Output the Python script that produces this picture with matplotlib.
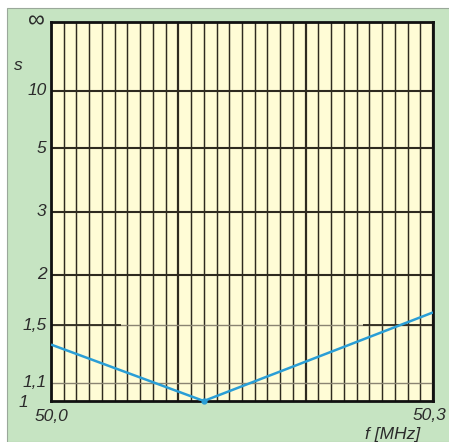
import numpy as np
import matplotlib.pyplot as plt
from matplotlib.patches import Rectangle

# SWR scale marks and the measured curve
swr_ticks = [1, 1.1, 1.5, 2, 3, 5, 10, np.inf]
swr_labels = ['1', '1,1', '1,5', '2', '3', '5', '10', '\u221e']
freq = [50.0, 50.12, 50.3]      # MHz
swr = [1.35, 1.0, 1.61]
f_min, f_max = 50.0, 50.3
f_step = 0.01
seg_15 = [(50.0, 50.055), (50.245, 50.3)]   # darker parts of the 1,5 line


def refl(s):
    # reflection coefficient, the chart's y scale
    s = np.asarray(s, dtype=float)
    return np.where(np.isinf(s), 1.0, (s - 1) / (s + 1))


plt.rcParams['font.family'] = ['Liberation Sans', 'DejaVu Sans']
green = '#c6e4c2'
yellow = '#fffcd6'
dark = '#2e2a20'
txt = '#2b2b2b'
fs = 12.5

fig = plt.figure(figsize=(4.49, 4.42), dpi=100)
fig.patch.set_facecolor('white')
fig.patches.append(Rectangle((7 / 449, 0), 1, 1 - 8 / 442, transform=fig.transFigure,
                             facecolor=green, edgecolor='#9aa89a', lw=0.8, zorder=-10))

ax = fig.add_axes([51 / 449, 1 - 401 / 442, 382 / 449, 379 / 442])
ax.set_facecolor(yellow)
ax.set_xlim(f_min, f_max)
ax.set_ylim(0, 1)

# vertical grid
for i, f in enumerate(np.arange(f_min, f_max + f_step / 2, f_step)):
    lw = 1.6 if i % 10 == 0 else 1.05
    ax.axvline(f, color=dark, lw=lw, zorder=1)

# horizontal grid
for s in swr_ticks[1:]:
    r = float(refl(s))
    if s in (1.1, 1.5):
        ax.axhline(r, color='#8a8472', lw=1.0, zorder=1)
    else:
        ax.axhline(r, color=dark, lw=1.5, zorder=1)
for a, b in seg_15:
    ax.hlines(float(refl(1.5)), a, b, color=dark, lw=1.3, zorder=1)

ax.plot(freq, refl(swr), color='#2a9ed6', lw=1.8, zorder=3, solid_capstyle='butt')
ax.plot(freq[1], float(refl(swr[1])), 'o', color='#2a9ed6', ms=3.5, zorder=4, clip_on=False)

for sp in ax.spines.values():
    sp.set_color('#111111')
    sp.set_linewidth(2)
ax.set_xticks([])
ax.set_yticks([])

# y labels
ytr = ax.get_yaxis_transform()
for s, lab in zip(swr_ticks, swr_labels):
    r = float(refl(s))
    if s == 1:
        ax.text(-0.073, r - 0.004, lab, transform=ytr, ha='center', va='center',
                fontsize=fs, style='italic', color=txt)
    elif np.isinf(s):
        ax.text(-0.016, r + 0.002, lab, transform=ytr, ha='right', va='center',
                fontsize=17, color=txt)
    else:
        ax.text(-0.012, r, lab, transform=ytr, ha='right', va='center',
                fontsize=fs, style='italic', color=txt)
ax.text(-0.085, 0.885, 's', transform=ax.transAxes, ha='center', va='center',
        fontsize=fs, style='italic', color=txt)

ax.text(-0.042, -0.042, '50,0', transform=ax.transAxes, ha='left', va='center',
        fontsize=fs, style='italic', color=txt)
ax.text(1.036, -0.037, '50,3', transform=ax.transAxes, ha='right', va='center',
        fontsize=fs, style='italic', color=txt)
ax.text(0.894, -0.088, 'f [MHz]', transform=ax.transAxes, ha='center', va='center',
        fontsize=fs, style='italic', color=txt)

fig.savefig('out.png', dpi=100, facecolor=fig.get_facecolor())
